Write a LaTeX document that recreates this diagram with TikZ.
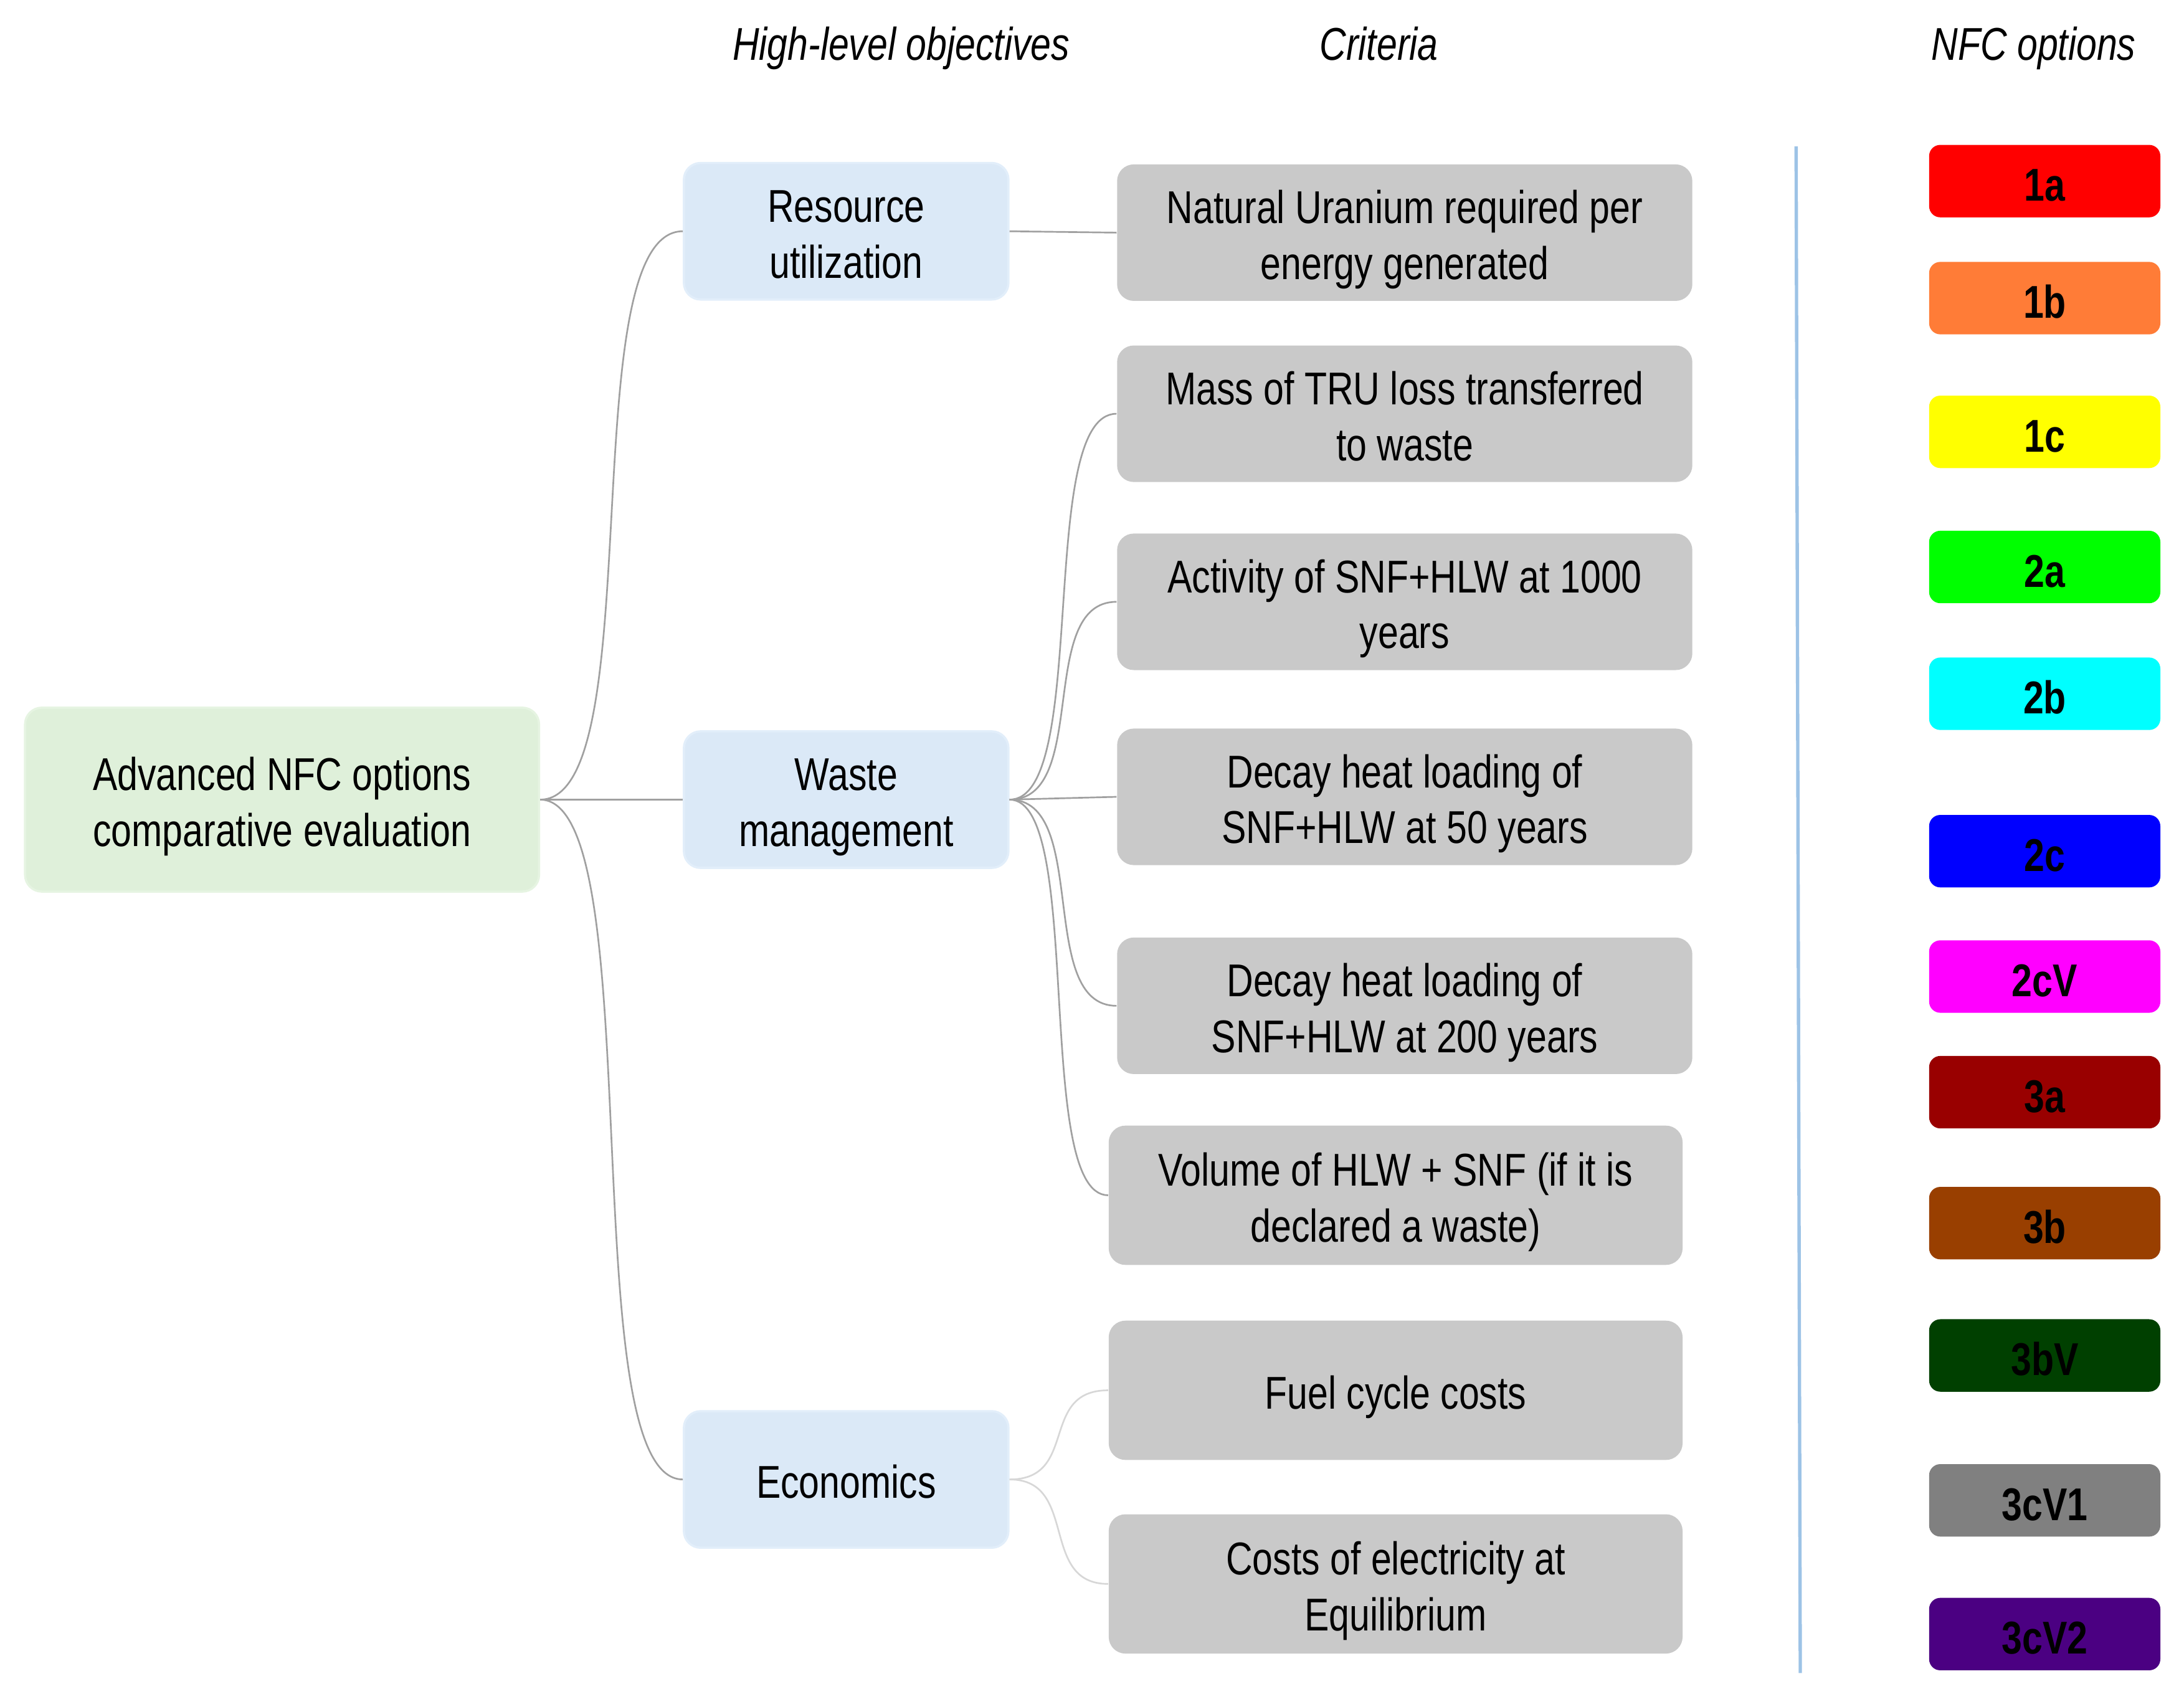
\documentclass[tikz,border=0pt]{standalone}
\usepackage{fontspec}
\setmainfont{Liberation Sans}[FakeStretch=0.8]
\definecolor{rootg}{RGB}{223,240,218}
\definecolor{rootd}{RGB}{230,244,226}
\definecolor{objb}{RGB}{219,233,247}
\definecolor{objd}{RGB}{226,238,250}
\definecolor{critg}{RGB}{201,201,201}
\definecolor{linkc}{RGB}{160,160,160}
\definecolor{linkl}{RGB}{215,215,215}
\definecolor{vline}{RGB}{157,195,230}
\definecolor{o1a}{RGB}{255,0,0}
\definecolor{o1b}{RGB}{255,124,55}
\definecolor{o1c}{RGB}{255,255,0}
\definecolor{o2a}{RGB}{0,255,0}
\definecolor{o2b}{RGB}{0,255,255}
\definecolor{o2c}{RGB}{0,0,255}
\definecolor{o2cV}{RGB}{255,0,255}
\definecolor{o3a}{RGB}{153,0,0}
\definecolor{o3b}{RGB}{153,63,0}
\definecolor{o3bV}{RGB}{0,64,0}
\definecolor{o3cV1}{RGB}{128,128,128}
\definecolor{o3cV2}{RGB}{75,0,130}
\newcommand{\topstrut}{\rule{0pt}{18pt}}
\tikzset{
  base/.style={rounded corners=6pt, inner sep=0pt, align=center, font=\fontsize{16.5}{20}\selectfont,
    execute at end node={\rule[-4.5pt]{0pt}{0pt}}},
  rootbox/.style={base, fill=rootg, draw=rootd, line width=0.8pt, minimum width=184.5pt, minimum height=66pt},
  objbox/.style={base, fill=objb, draw=objd, line width=0.8pt, minimum width=116.5pt, minimum height=49pt},
  critbox/.style={base, fill=critg, minimum width=206.5pt, minimum height=49pt},
  critboxb/.style={base, fill=critg, minimum width=206pt, minimum height=50pt},
  optbox/.style={rounded corners=4pt, inner sep=0pt, font=\bfseries\fontsize{16.5}{20}\selectfont, minimum width=83pt, minimum height=26pt,
    execute at begin node={\rule{0pt}{14.5pt}}},
  header/.style={font=\itshape\fontsize{16.5}{20}\selectfont, inner sep=0pt, anchor=base},
  link/.style={draw=linkc, line width=0.6pt},
  linklight/.style={draw=linkl, line width=0.6pt}
}
\begin{document}
\begin{tikzpicture}[x=0.5pt,y=-0.5pt]
\useasboundingbox (0,0) rectangle (1568,1216);
% headers
\node[header] (h1) at (647,43) {High-level objectives};
\node[header] (h2) at (990,43) {Criteria};
\node[header] (h3) at (1460,43) {NFC options};
% root
\node[rootbox] (root) at (202.5,574) {\topstrut Advanced NFC options\\comparative evaluation};
% objectives
\node[objbox] (ru) at (607.5,166) {\topstrut Resource\\utilization};
\node[objbox] (wm) at (607.5,574) {\topstrut Waste\\management};
\node[objbox] (ec) at (607.5,1062) {\topstrut Economics};
% criteria
\node[critbox] (c1) at (1008.5,167) {\topstrut Natural Uranium required per\\energy generated};
\node[critbox] (c2) at (1008.5,297) {\topstrut Mass of TRU loss transferred\\to waste};
\node[critbox] (c3) at (1008.5,432) {\topstrut Activity of SNF+HLW at 1000\\years};
\node[critbox] (c4) at (1008.5,572) {\topstrut Decay heat loading of\\SNF+HLW at 50 years};
\node[critbox] (c5) at (1008.5,722) {\topstrut Decay heat loading of\\SNF+HLW at 200 years};
\node[critboxb] (c6) at (1002,858) {\topstrut Volume of HLW + SNF (if it is\\declared a waste)};
\node[critboxb] (c7) at (1002,998) {\topstrut Fuel cycle costs};
\node[critboxb] (c8) at (1002,1137) {\topstrut Costs of electricity at\\Equilibrium};
% connectors root -> objectives
\draw[link] (root.east) .. controls +(80,0) and +(-80,0) .. (ru.west);
\draw[link] (root.east) -- (wm.west);
\draw[link] (root.east) .. controls +(80,0) and +(-80,0) .. (ec.west);
% resource
\draw[link] (ru.east) -- (c1.west);
% waste
\draw[link] (wm.east) .. controls +(58,0) and +(-58,0) .. (c2.west);
\draw[link] (wm.east) .. controls +(58,0) and +(-58,0) .. (c3.west);
\draw[link] (wm.east) -- (c4.west);
\draw[link] (wm.east) .. controls +(58,0) and +(-58,0) .. (c5.west);
\draw[link] (wm.east) .. controls +(54,0) and +(-54,0) .. (c6.west);
% economics
\draw[linklight] (ec.east) .. controls +(50,0) and +(-50,0) .. (c7.west);
\draw[linklight] (ec.east) .. controls +(50,0) and +(-50,0) .. (c8.west);
% separator
\coordinate (vt) at (1289.5,105);
\coordinate (vb) at (1292.5,1201);
\draw[vline, line width=1.2pt] (vt) -- (vb);
% options
\node[optbox, fill=o1a] (o1) at (1468,130) {1a};
\node[optbox, fill=o1b] (o2) at (1468,214) {1b};
\node[optbox, fill=o1c] (o3) at (1468,310) {1c};
\node[optbox, fill=o2a] (o4) at (1468,407) {2a};
\node[optbox, fill=o2b] (o5) at (1468,498) {2b};
\node[optbox, fill=o2c] (o6) at (1468,611) {2c};
\node[optbox, fill=o2cV] (o7) at (1468,701) {2cV};
\node[optbox, fill=o3a] (o8) at (1468,784) {3a};
\node[optbox, fill=o3b] (o9) at (1468,878) {3b};
\node[optbox, fill=o3bV] (o10) at (1468,973) {3bV};
\node[optbox, fill=o3cV1] (o11) at (1468,1077) {3cV1};
\node[optbox, fill=o3cV2] (o12) at (1468,1173) {3cV2};
\end{tikzpicture}
\end{document}
